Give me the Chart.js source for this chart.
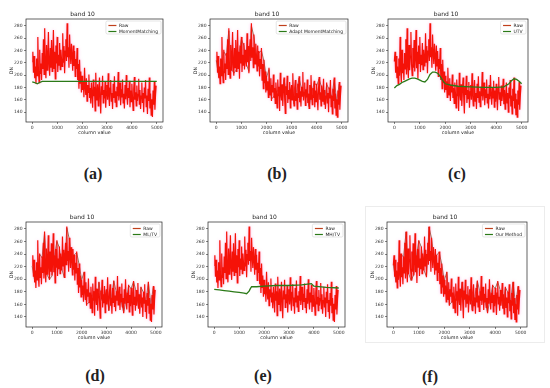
<!DOCTYPE html>
<html>
<head>
<meta charset="utf-8">
<script src="https://cdn.jsdelivr.net/npm/chart.js@4.4.1/dist/chart.umd.min.js"></script>
<style>
  body { margin: 0; background: #fff; width: 550px; height: 388px; position: relative; overflow: hidden; }
  canvas { position: absolute; }
  .lab { position: absolute; font-family: "Liberation Serif", serif; font-size: 16px; font-weight: bold; color: #222; transform: translate(-50%, -50%); }
  #frameF { position: absolute; left: 365px; top: 206px; width: 178px; height: 135px; border: 1px solid #ececec; }
</style>
</head>
<body>
<div id="frameF"></div>
<canvas id="cA"></canvas><canvas id="cB"></canvas><canvas id="cC"></canvas>
<canvas id="cD"></canvas><canvas id="cE"></canvas><canvas id="cF"></canvas>
<div class="lab" style="left:93px;top:174px">(a)</div>
<div class="lab" style="left:277px;top:174px">(b)</div>
<div class="lab" style="left:457px;top:174px">(c)</div>
<div class="lab" style="left:95px;top:376px">(d)</div>
<div class="lab" style="left:263px;top:376px">(e)</div>
<div class="lab" style="left:430px;top:377px">(f)</div>
<script>
// tick labels
const colTicks = [0, 1000, 2000, 3000, 4000, 5000];
const dnTicks = [140, 160, 180, 200, 220, 240, 260, 280];

// raw column means, one value every 25 columns
const rawStep = 25;
const rawDN = [
  222, 238, 204, 231, 195, 214, 186, 227,
  199, 262, 207, 188, 241, 203, 219, 192,
  236, 210, 258, 201, 276, 214, 195, 249,
  208, 231, 270, 217, 199, 244, 212, 257,
  206, 226, 273, 211, 238, 194, 248, 219,
  262, 205, 233, 216, 252, 209, 241, 226,
  214, 268, 221, 247, 203, 239, 258, 223,
  284, 229, 245, 212, 266, 236, 218, 251,
  232, 207, 248, 215, 239, 198, 226, 210,
  244, 192, 218, 178, 225, 187, 206, 172,
  199, 176, 190, 164, 212, 181, 168, 195,
  158, 184, 172, 201, 163, 179, 154, 188,
  170, 147, 193, 166, 181, 142, 204, 171,
  159, 185, 150, 177, 196, 163, 138, 182,
  168, 199, 155, 176, 162, 189, 147, 173,
  184, 160, 203, 167, 150, 179, 192, 158,
  171, 145, 186, 163, 198, 156, 174, 149,
  181, 166, 205, 159, 172, 188, 151, 177,
  164, 193, 155, 170, 146, 184, 161, 200,
  168, 152, 179, 163, 191, 148, 175, 157,
  186, 165, 143, 178, 197, 160, 172, 150,
  183, 158, 169, 194, 153, 176, 145, 166,
  188, 155, 171, 140, 180, 162, 192, 149,
  167, 137, 178, 158, 196, 146, 170, 135,
  161, 132, 175, 152, 189, 144, 168, 183
];

// methods that follow the raw profile, one value every 100 columns
const fineStep = 100;
const adaptDN = [224, 197, 203, 238, 231, 272, 210, 203, 209, 235, 258, 248, 218, 206, 280, 262, 229, 236, 240, 222,
  196, 209, 161, 166, 172, 178, 162, 193, 170, 165, 181, 153, 174, 195, 178, 169, 166, 149, 170, 188,
  183, 194, 180, 156, 185, 177, 164, 193, 158, 186];
const mltvDN = [221, 198, 201, 240, 234, 273, 207, 200, 205, 238, 260, 250, 216, 203, 282, 264, 230, 239, 242, 223,
  199, 211, 160, 163, 169, 181, 159, 195, 167, 162, 183, 150, 171, 197, 180, 171, 164, 147, 168, 190,
  185, 196, 181, 154, 187, 179, 166, 195, 160, 188];
const oursDN = [223, 196, 200, 240, 235, 275, 209, 198, 207, 237, 261, 251, 215, 204, 283, 265, 231, 238, 243, 224,
  198, 211, 159, 164, 171, 180, 160, 195, 167, 163, 183, 151, 172, 197, 180, 171, 165, 147, 169, 190,
  185, 196, 182, 154, 187, 179, 166, 195, 160, 188];

// smooth methods
const mmCols = [0, 100, 200, 300, 400, 600, 1000, 1500, 2000, 2500, 3000, 3500, 4000, 4500, 5000];
const mmDN = [189, 188, 186, 188, 190, 190, 190, 190, 190, 190, 190, 190, 190, 190, 190];
const utvCols = [0, 100, 200, 300, 400, 500, 600, 700, 800, 900, 1000, 1100, 1200, 1300, 1400, 1500, 1600, 1700,
  1800, 1900, 2000, 2200, 2500, 3000, 3500, 4000, 4300, 4500, 4600, 4700, 4800, 4900, 5000];
const utvDN = [179, 183, 185, 188, 190, 192, 194, 195, 195, 194, 192, 190, 189, 193, 201, 205, 205, 203,
  198, 191, 186, 184, 182, 181, 180, 180, 181, 186, 191, 194, 193, 190, 186];
const mhtvCols = [0, 200, 400, 600, 800, 1000, 1200, 1300, 1400, 1450, 1500, 1700, 2000, 2500, 3000, 3500, 3900, 4000, 4500, 5000];
const mhtvDN = [184, 183, 182, 181, 180, 179, 178, 177, 181, 185, 188, 188, 189, 190, 190, 191, 193, 189, 187, 186];

const rawColor = '#f51208';
const greenColor = '#2b7a18';

function stepped(values, step) {
  return values.map((v, i) => ({ x: i * step, y: v }));
}
function paired(cols, values) {
  return cols.map((c, i) => ({ x: c, y: values[i] }));
}

// soft pink fringe around the raw trace, like the source image
const halo = {
  id: 'halo',
  beforeDatasetDraw(chart, args) {
    if (chart.data.datasets[args.index].label !== 'Raw') return;
    chart.ctx.save();
    chart.ctx.shadowColor = 'rgba(255, 110, 210, 0.55)';
    chart.ctx.shadowBlur = 3;
  },
  afterDatasetDraw(chart, args) {
    if (chart.data.datasets[args.index].label !== 'Raw') return;
    chart.ctx.restore();
  }
};

const frame = {
  id: 'frame',
  afterDatasetsDraw(chart) {
    const { ctx, chartArea: a } = chart;
    ctx.save();
    ctx.strokeStyle = '#222';
    ctx.lineWidth = 0.7;
    ctx.strokeRect(a.left, a.top, a.right - a.left, a.bottom - a.top);
    ctx.restore();
  }
};

const boxLegend = {
  id: 'boxLegend',
  afterDraw(chart) {
    const { ctx, chartArea: a } = chart;
    const ds = chart.data.datasets;
    ctx.save();
    ctx.font = '4.5px "DejaVu Sans"';
    const tw = Math.max(...ds.map(d => ctx.measureText(d.label).width));
    const w = tw + 16, h = 13;
    const x = a.right - w - 2, y = a.top + 2;
    ctx.fillStyle = 'rgba(255,255,255,0.85)';
    ctx.strokeStyle = '#d4d4d4';
    ctx.lineWidth = 0.6;
    ctx.beginPath();
    ctx.roundRect(x, y, w, h, 1.5);
    ctx.fill();
    ctx.stroke();
    ds.forEach((d, i) => {
      const ly = Math.round(y + 3.5 + i * 6) + 0.5;
      ctx.strokeStyle = d.legendColor;
      ctx.lineWidth = 1.2;
      ctx.beginPath();
      ctx.moveTo(x + 2.5, ly);
      ctx.lineTo(x + 10.5, ly);
      ctx.stroke();
      ctx.fillStyle = '#222';
      ctx.textBaseline = 'middle';
      ctx.fillText(d.label, x + 13, ly);
    });
    ctx.restore();
  }
};

function makePanel(id, box, label, points, smooth) {
  const canvas = document.getElementById(id);
  canvas.width = box.R - box.L + 28;
  canvas.height = box.B - box.T + 28;
  canvas.style.left = (box.L - 24) + 'px';
  canvas.style.top = (box.T - 12) + 'px';
  new Chart(canvas, {
    type: 'line',
    data: {
      datasets: [{
        label: 'Raw',
        data: stepped(rawDN, rawStep),
        borderColor: rawColor,
        legendColor: '#c0401c',
        borderWidth: 1.2,
        order: smooth ? 1 : 0
      }, {
        label: label,
        data: points,
        borderColor: smooth ? greenColor : '#6a4a14',
        legendColor: greenColor,
        borderWidth: smooth ? 1.3 : 0.8,
        order: smooth ? 0 : 1
      }]
    },
    options: {
      responsive: false,
      animation: false,
      events: [],
      layout: { padding: { left: 0, right: 4, top: 0, bottom: 0 } },
      elements: { point: { radius: 0 }, line: { tension: 0 } },
      plugins: {
        legend: { display: false },
        tooltip: { enabled: false },
        title: {
          display: true,
          text: 'band 10',
          color: '#222',
          font: { family: 'DejaVu Sans', size: 6, weight: 'normal' },
          padding: { top: 3.8, bottom: 1 }
        }
      },
      scales: {
        x: {
          type: 'linear',
          min: -250,
          max: 5250,
          afterBuildTicks: s => { s.ticks = colTicks.map(v => ({ value: v })); },
          afterFit: s => { s.height = 16; },
          grid: { display: true, drawOnChartArea: false, drawTicks: true, tickLength: 2, color: '#333', lineWidth: 0.6 },
          border: { display: false },
          ticks: { color: '#333', font: { family: 'DejaVu Sans', size: 4.5 }, padding: 1, maxRotation: 0, callback: v => String(v) },
          title: { display: true, text: 'column value', color: '#222', font: { family: 'DejaVu Sans', size: 4.8 }, padding: { top: 0, bottom: 2.2 } }
        },
        y: {
          min: 124,
          max: 291,
          afterBuildTicks: s => { s.ticks = dnTicks.map(v => ({ value: v })); },
          afterFit: s => { s.width = 24; },
          grid: { display: true, drawOnChartArea: false, drawTicks: true, tickLength: 2, color: '#333', lineWidth: 0.6 },
          border: { display: false },
          ticks: { color: '#333', font: { family: 'DejaVu Sans', size: 4.5 }, padding: 1.5, callback: v => String(v) },
          title: { display: true, text: 'DN', color: '#222', font: { family: 'DejaVu Sans', size: 4.8 }, padding: { top: 7, bottom: 0 } }
        }
      }
    },
    plugins: [halo, frame, boxLegend]
  });
}

makePanel('cA', { L: 26, R: 163, T: 19, B: 122 }, 'MomentMatching', paired(mmCols, mmDN), true);
makePanel('cB', { L: 210, R: 348, T: 19, B: 122 }, 'Adapt MomentMatching', stepped(adaptDN, fineStep), false);
makePanel('cC', { L: 388, R: 528, T: 19, B: 122 }, 'UTV', paired(utvCols, utvDN), true);
makePanel('cD', { L: 26, R: 162, T: 222, B: 327 }, 'ML/TV', stepped(mltvDN, fineStep), false);
makePanel('cE', { L: 208, R: 345, T: 222, B: 327 }, 'MH/TV', paired(mhtvCols, mhtvDN), true);
makePanel('cF', { L: 387, R: 527, T: 222, B: 327 }, 'Our Method', stepped(oursDN, fineStep), false);
</script>
</body>
</html>
